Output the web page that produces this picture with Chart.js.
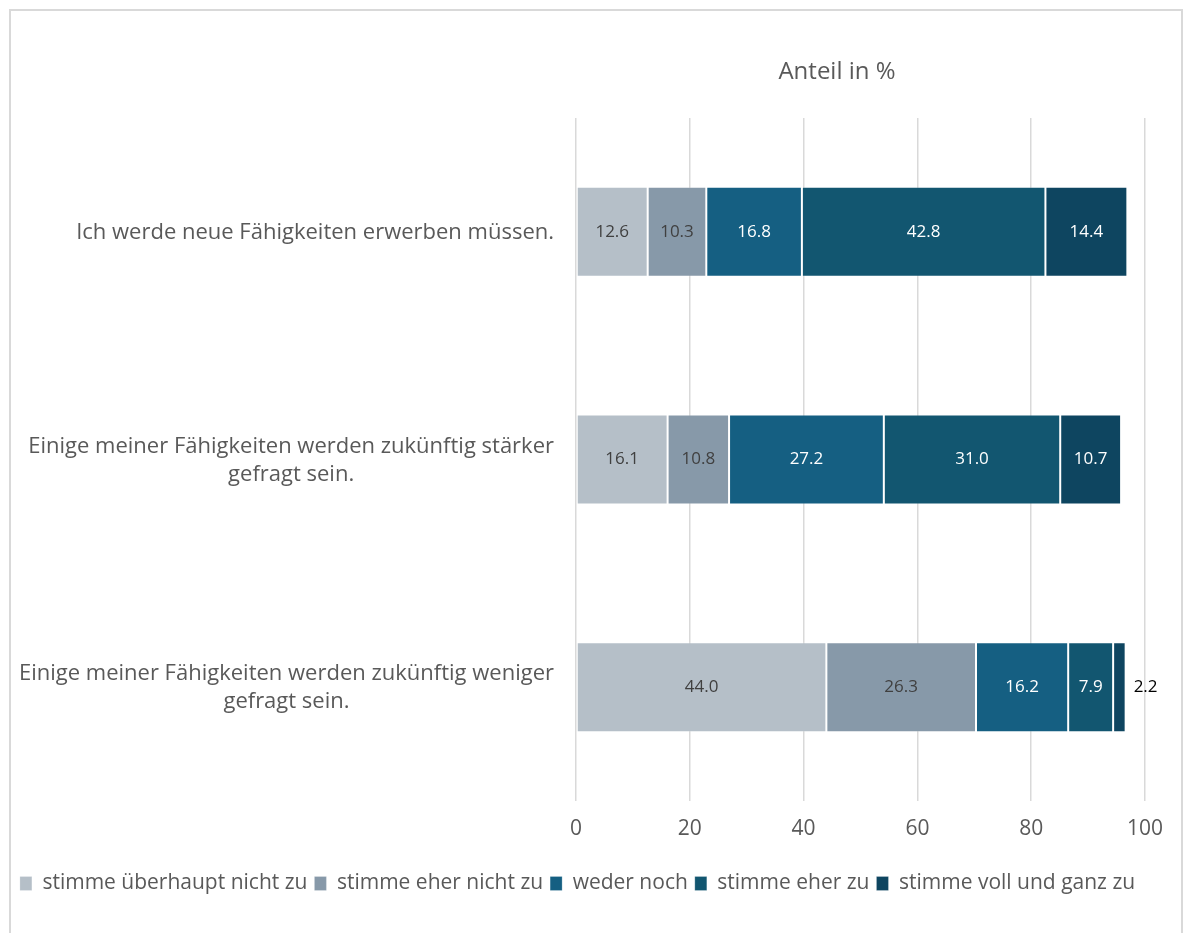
<!DOCTYPE html>
<html>
<head>
<meta charset="utf-8">
<script src="https://cdn.jsdelivr.net/npm/chart.js@4.4.1/dist/chart.umd.min.js"></script>
<style>
  html, body { margin: 0; padding: 0; background: #fff; }
  #wrap { position: relative; width: 1184px; height: 933px; }
  #frame { position: absolute; left: 9px; top: 9px; width: 1174px; height: 940px; border: 2px solid #d9d9d9; box-sizing: border-box; pointer-events: none; }
  canvas { position: absolute; left: 0; top: 0; }
</style>
</head>
<body>
<div id="wrap">
  <canvas id="c" width="1184" height="933"></canvas>
  <div id="frame"></div>
</div>
<script>
const categories = [
  ["Ich werde neue Fähigkeiten erwerben müssen."],
  ["Einige meiner Fähigkeiten werden zukünftig stärker", "gefragt sein."],
  ["Einige meiner Fähigkeiten werden zukünftig weniger", "gefragt sein."]
];
const seriesNames = ["stimme überhaupt nicht zu", "stimme eher nicht zu", "weder noch", "stimme eher zu", "stimme voll und ganz zu"];
const ueberhauptNicht = [12.6, 16.1, 44.0];
const eherNicht = [10.3, 10.8, 26.3];
const wederNoch = [16.8, 27.2, 16.2];
const eherZu = [42.8, 31.0, 7.9];
const vollUndGanz = [14.4, 10.7, 2.2];
const xTicks = [0, 20, 40, 60, 80, 100];
const axisTitle = "Anteil in %";

const colors = ["#b5bfc8", "#8799a9", "#155f82", "#125670", "#0e4560"];
const labelColors = ["#404040", "#404040", "#ffffff", "#ffffff", "#ffffff"];
const FONT = "'Open Sans', 'Liberation Sans', sans-serif";
const values = [ueberhauptNicht, eherNicht, wederNoch, eherZu, vollUndGanz];

const datasets = seriesNames.map((n, i) => ({
  label: n,
  data: values[i],
  backgroundColor: colors[i],
  borderColor: "rgba(255,255,255,0.22)",
  borderWidth: 1,
  borderSkipped: false,
  barPercentage: 0.79,
  categoryPercentage: 0.5
}));

const labelPlugin = {
  id: "labels",
  afterDatasetsDraw(chart) {
    const ctx = chart.ctx;
    ctx.save();
    ctx.font = "17px " + FONT;
    ctx.textBaseline = "middle";
    chart.data.datasets.forEach((ds, di) => {
      const meta = chart.getDatasetMeta(di);
      meta.data.forEach((el, i) => {
        const v = ds.data[i];
        const txt = v.toFixed(1);
        if (v < 3) {
          ctx.fillStyle = "#000000";
          ctx.textAlign = "left";
          ctx.fillText(txt, el.x + 8, el.y);
        } else {
          ctx.fillStyle = labelColors[di];
          ctx.textAlign = "center";
          ctx.fillText(txt, (el.x + el.base) / 2, el.y);
        }
      });
    });
    // category labels
    const y = chart.scales.y;
    ctx.font = "22px " + FONT;
    ctx.fillStyle = "#595959";
    const rightEdge = chart.chartArea.left - 22;
    const lh = 28;
    categories.forEach((lines, i) => {
      const cy = y.getPixelForValue(i) + 1;
      const w = Math.max(...lines.map(l => ctx.measureText(l).width));
      const cx = rightEdge - w / 2;
      ctx.textAlign = "center";
      lines.forEach((l, k) => {
        ctx.fillText(l, cx, cy + (k - (lines.length - 1) / 2) * lh);
      });
    });
    // axis title
    ctx.font = "24px " + FONT;
    ctx.textAlign = "center";
    ctx.fillText(axisTitle, 837, 72);
    ctx.restore();
  }
};

new Chart(document.getElementById("c"), {
  type: "bar",
  data: { labels: categories.map(c => c.join(" ")), datasets },
  options: {
    indexAxis: "y",
    responsive: false,
    animation: false,
    layout: { padding: { top: 118, right: 39, left: 10, bottom: 29 } },
    scales: {
      x: {
        stacked: true,
        min: 0, max: 100,
        afterBuildTicks(scale) { scale.ticks = xTicks.map(v => ({ value: v })); },
        grid: { color: "#d9d9d9", lineWidth: 1.5, drawTicks: false },
        border: { display: false },
        ticks: { color: "#595959", font: { family: FONT, size: 21 }, padding: 15 },
        afterFit(scale) { scale.height = 65; }
      },
      y: {
        stacked: true,
        grid: { display: false },
        border: { display: false },
        ticks: { display: false },
        afterFit(scale) { scale.width = 566; }
      }
    },
    plugins: {
      legend: {
        position: "bottom",
        labels: { color: "#595959", font: { family: FONT, size: 21 }, boxWidth: 12, boxHeight: 14, padding: 7 }
      },
      tooltip: { enabled: false },
      title: { display: false }
    }
  },
  plugins: [labelPlugin]
});
</script>
</body>
</html>
